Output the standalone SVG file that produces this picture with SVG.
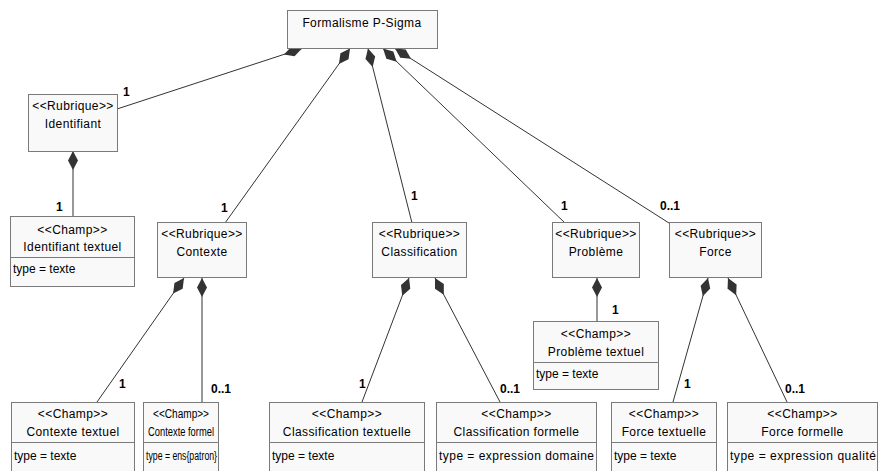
<svg xmlns="http://www.w3.org/2000/svg" width="880" height="471" viewBox="0 0 880 471">
<style>
.box{fill:#f9f9f9;stroke:#7a7a7a;stroke-width:1}
.div{stroke:#7a7a7a;stroke-width:1}
text{font-family:"Liberation Sans",Arial,sans-serif;font-size:12px;fill:#000}
.c{text-anchor:middle;letter-spacing:0.4px}
.ty{text-anchor:start}
.lbl{font-weight:bold;font-size:12px}
.conn{stroke:#333;stroke-width:1;fill:none;marker-start:url(#dia)}
</style>
<defs>
<marker id="dia" markerUnits="userSpaceOnUse" viewBox="0 0 19 10" refX="0" refY="5" markerWidth="19" markerHeight="10" orient="auto" overflow="visible">
<path d="M0,5 L9.5,0 L19,5 L9.5,10 Z" fill="#333"/>
</marker>
</defs>

<g id="connectors">
<line class="conn" x1="302" y1="48.5" x2="117" y2="109"/>
<line class="conn" x1="350" y1="48.5" x2="225" y2="223"/>
<line class="conn" x1="368" y1="48.5" x2="412" y2="223"/>
<line class="conn" x1="383" y1="48.5" x2="565" y2="223"/>
<line class="conn" x1="395" y1="48.5" x2="669" y2="223"/>
<line class="conn" x1="73" y1="151" x2="73" y2="217"/>
<line class="conn" x1="184" y1="278" x2="97" y2="402"/>
<line class="conn" x1="202" y1="278" x2="202" y2="402"/>
<line class="conn" x1="409" y1="278" x2="362" y2="402"/>
<line class="conn" x1="435" y1="278" x2="500" y2="402"/>
<line class="conn" x1="597" y1="278" x2="597" y2="321"/>
<line class="conn" x1="708" y1="278" x2="673" y2="402"/>
<line class="conn" x1="728" y1="278" x2="787" y2="402"/>
<text class="lbl" x="123" y="96">1</text>
<text class="lbl" x="56" y="211">1</text>
<text class="lbl" x="221" y="212">1</text>
<text class="lbl" x="411" y="200">1</text>
<text class="lbl" x="561" y="210">1</text>
<text class="lbl" x="660" y="210">0..1</text>
<text class="lbl" x="612" y="314">1</text>
<text class="lbl" x="119" y="388">1</text>
<text class="lbl" x="211" y="393">0..1</text>
<text class="lbl" x="359" y="388">1</text>
<text class="lbl" x="500" y="393">0..1</text>
<text class="lbl" x="684" y="388">1</text>
<text class="lbl" x="785" y="393">0..1</text>
</g>

<g id="formalisme">
<rect class="box" x="287.5" y="10.5" width="150" height="38"/>
<text class="c" x="362" y="27">Formalisme P-Sigma</text>
</g>

<g id="identifiant">
<rect class="box" x="28.5" y="94.5" width="89" height="57"/>
<text class="c" x="73" y="110">&lt;&lt;Rubrique&gt;&gt;</text>
<text class="c" x="73" y="128">Identifiant</text>
</g>

<g id="identifiant-textuel">
<rect class="box" x="10.5" y="216.5" width="124" height="70"/>
<line class="div" x1="10.5" y1="257.5" x2="134.5" y2="257.5"/>
<text class="c" x="72.5" y="234">&lt;&lt;Champ&gt;&gt;</text>
<text class="c" x="72.5" y="251">Identifiant textuel</text>
<text class="ty" x="13" y="273">type = texte</text>
</g>

<g id="contexte">
<rect class="box" x="157.5" y="222.5" width="89" height="55"/>
<text class="c" x="202" y="238">&lt;&lt;Rubrique&gt;&gt;</text>
<text class="c" x="202" y="256">Contexte</text>
</g>

<g id="classification">
<rect class="box" x="372.5" y="222.5" width="94" height="55"/>
<text class="c" x="419.5" y="238">&lt;&lt;Rubrique&gt;&gt;</text>
<text class="c" x="419.5" y="256">Classification</text>
</g>

<g id="probleme">
<rect class="box" x="552.5" y="222.5" width="87" height="55"/>
<text class="c" x="596" y="238">&lt;&lt;Rubrique&gt;&gt;</text>
<text class="c" x="596" y="256">Problème</text>
</g>

<g id="force">
<rect class="box" x="669.5" y="222.5" width="92" height="55"/>
<text class="c" x="715.5" y="238">&lt;&lt;Rubrique&gt;&gt;</text>
<text class="c" x="715.5" y="256">Force</text>
</g>

<g id="probleme-textuel">
<rect class="box" x="533.5" y="321.5" width="125" height="68"/>
<line class="div" x1="533.5" y1="362.5" x2="658.5" y2="362.5"/>
<text class="c" x="596" y="338">&lt;&lt;Champ&gt;&gt;</text>
<text class="c" x="596" y="356">Problème textuel</text>
<text class="ty" x="536" y="378">type = texte</text>
</g>

<g id="contexte-textuel">
<rect class="box" x="11.5" y="402.5" width="123" height="80"/>
<line class="div" x1="11.5" y1="442.5" x2="134.5" y2="442.5"/>
<text class="c" x="73" y="418">&lt;&lt;Champ&gt;&gt;</text>
<text class="c" x="73" y="436">Contexte textuel</text>
<text class="ty" x="14" y="460">type = texte</text>
</g>

<g id="contexte-formel">
<rect class="box" x="143.5" y="402.5" width="75" height="80"/>
<line class="div" x1="143.5" y1="442.5" x2="218.5" y2="442.5"/>
<text x="181" y="418" text-anchor="middle" textLength="56" lengthAdjust="spacingAndGlyphs">&lt;&lt;Champ&gt;&gt;</text>
<text x="181" y="436" text-anchor="middle" textLength="66" lengthAdjust="spacingAndGlyphs">Contexte formel</text>
<text x="146" y="460" textLength="71" lengthAdjust="spacingAndGlyphs">type = ens{patron}</text>
</g>

<g id="classification-textuelle">
<rect class="box" x="269.5" y="402.5" width="155" height="80"/>
<line class="div" x1="269.5" y1="442.5" x2="424.5" y2="442.5"/>
<text class="c" x="347" y="418">&lt;&lt;Champ&gt;&gt;</text>
<text class="c" x="347" y="436">Classification textuelle</text>
<text class="ty" x="272" y="460">type = texte</text>
</g>

<g id="classification-formelle">
<rect class="box" x="436.5" y="402.5" width="160" height="80"/>
<line class="div" x1="436.5" y1="442.5" x2="596.5" y2="442.5"/>
<text class="c" x="516.5" y="418">&lt;&lt;Champ&gt;&gt;</text>
<text class="c" x="516.5" y="436">Classification formelle</text>
<text class="ty" x="439" y="460" textLength="155" lengthAdjust="spacing">type = expression domaine</text>
</g>

<g id="force-textuelle">
<rect class="box" x="611.5" y="402.5" width="105" height="80"/>
<line class="div" x1="611.5" y1="442.5" x2="716.5" y2="442.5"/>
<text class="c" x="664" y="418">&lt;&lt;Champ&gt;&gt;</text>
<text class="c" x="664" y="436">Force textuelle</text>
<text class="ty" x="614" y="460">type = texte</text>
</g>

<g id="force-formelle">
<rect class="box" x="727.5" y="402.5" width="150" height="80"/>
<line class="div" x1="727.5" y1="442.5" x2="877.5" y2="442.5"/>
<text class="c" x="802.5" y="418">&lt;&lt;Champ&gt;&gt;</text>
<text class="c" x="802.5" y="436">Force formelle</text>
<text class="ty" x="730" y="460" textLength="146" lengthAdjust="spacing">type = expression qualité</text>
</g>
</svg>
